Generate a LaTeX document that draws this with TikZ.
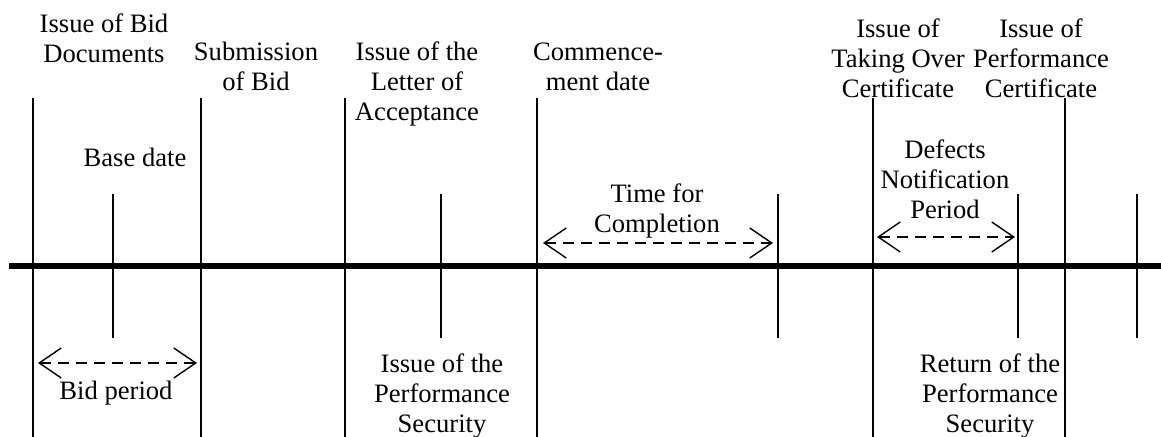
\documentclass[tikz,border=0pt]{standalone}
\usepackage{fontspec}
\setmainfont{Liberation Serif}
\usetikzlibrary{arrows.meta}

\begin{document}
\begin{tikzpicture}[x=0.5pt, y=-0.5pt,
    lbl/.style={align=center, anchor=base, inner sep=0pt, font=\fontsize{13.3pt}{15.2pt}\selectfont},
    tick/.style={line width=0.8pt},
    span/.style={line width=0.7pt, dash pattern=on 5.5pt off 3.5pt,
        {Straight Barb[length=11pt, width=15pt, line width=0.7pt]}-{Straight Barb[length=11pt, width=15pt, line width=0.7pt]}}]
    \useasboundingbox (0, 0) rectangle (1161, 437);

    \draw[line width=3pt] (9, 266) -- (1161, 266);

    \foreach \x in {33, 201, 345, 537, 873, 1065}
        \draw[tick] (\x, 98) -- (\x, 437);
    \foreach \x in {113, 441, 778, 1018, 1137}
        \draw[tick] (\x, 194) -- (\x, 338);

    \node[lbl] (bd) at (104, 63) {Issue of Bid\\Documents};
    \node[lbl] (sb) at (256, 91) {Submission\\of Bid};
    \node[lbl] (la) at (417, 121) {Issue of the\\Letter of\\Acceptance};
    \node[lbl] (cd) at (598, 91) {Commence-\\ment date};
    \node[lbl] (to) at (898, 98) {Issue of\\Taking Over\\Certificate};
    \node[lbl] (pc) at (1041, 98) {Issue of\\Performance\\Certificate};
    \node[lbl] (base) at (135, 167) {Base date};
    \node[lbl] (tc) at (657, 233) {Time for\\Completion};
    \node[lbl] (dn) at (945, 219) {Defects\\Notification\\Period};
    \node[lbl] (bp) at (116, 400) {Bid period};
    \node[lbl] (ps) at (442, 433) {Issue of the\\Performance\\Security};
    \node[lbl] (rs) at (990, 433) {Return of the\\Performance\\Security};

    \coordinate (bp1) at (38, 363);
    \coordinate (bp2) at (197, 363);
    \coordinate (tc1) at (543, 243);
    \coordinate (tc2) at (773, 243);
    \coordinate (dn1) at (877, 237);
    \coordinate (dn2) at (1015, 237);

    \draw[span] (bp1) -- (bp2);
    \draw[span] (tc1) -- (tc2);
    \draw[span] (dn1) -- (dn2);
\end{tikzpicture}
\end{document}
